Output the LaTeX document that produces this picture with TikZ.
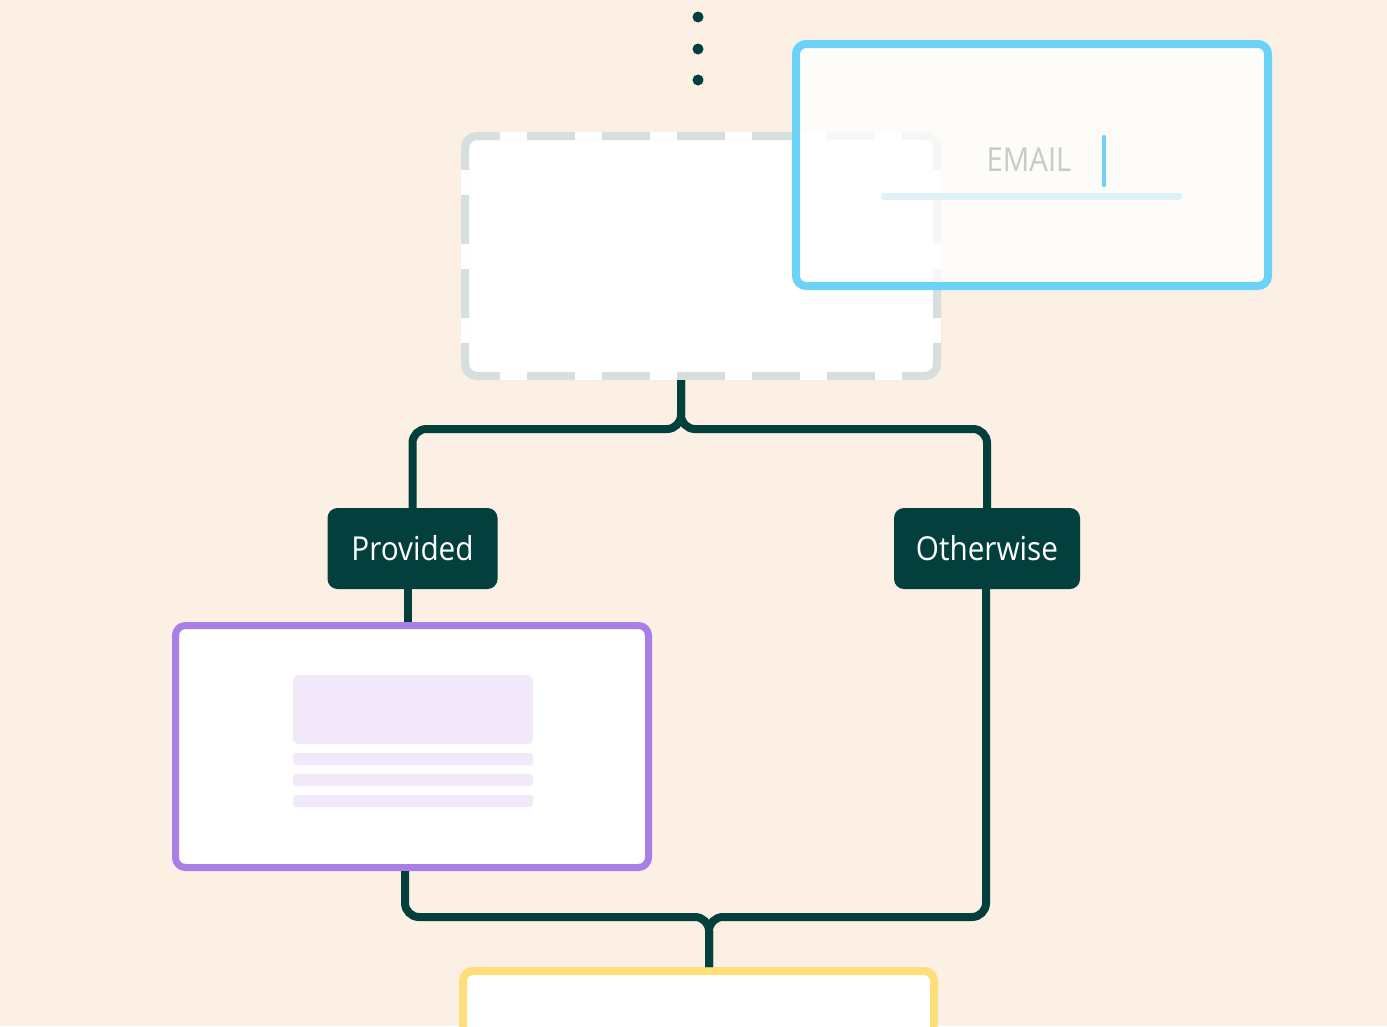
\documentclass[tikz,border=0pt]{standalone}
\usepackage{fontspec}
\setmainfont{Open Sans}
\usetikzlibrary{calc}
\definecolor{bg}{HTML}{FBF0E3}
\definecolor{dark}{HTML}{033F3D}
\definecolor{dashgray}{HTML}{D6DFDD}
\definecolor{skyblue}{HTML}{6CD2F7}
\definecolor{lightblue}{HTML}{DDF2F9}
\definecolor{violet}{HTML}{A97EE6}
\definecolor{lightviolet}{HTML}{F1E9F9}
\definecolor{sunyellow}{HTML}{FFDF7B}
\definecolor{textgray}{HTML}{C9C9C9}
\tikzset{
  conn/.style={draw=dark, line width=8pt, rounded corners=14pt},
  tag/.style={fill=dark, rounded corners=10pt, text=white, inner sep=0pt,
    minimum height=81pt, font=\fontsize{33}{40}\selectfont},
  card/.style={fill=white, line width=7pt, rounded corners=10pt, inner sep=0pt,
    minimum width=473pt, minimum height=242pt},
  gapbox/.style={fill=white},
  bar/.style={fill=lightviolet, rounded corners=3pt},
  dot/.style={fill=dark}
}
\begin{document}
\begin{tikzpicture}[x=1pt,y=-1pt]
\useasboundingbox (0,0) rectangle (1387,1026);
\clip (0,0) rectangle (1387,1026);
\fill[bg] (0,0) rectangle (1387,1026);

% three dots
\fill[dot] (698,17) circle (5.5pt);
\fill[dot] (698,49) circle (5.5pt);
\fill[dot] (698,80) circle (5.5pt);

% dashed placeholder box
\node[card, draw=dashgray, line width=8pt, rounded corners=12pt,
      minimum width=472pt, minimum height=240pt] (dashbox) at (701,256) {};
\foreach \c in {-187.5,-112.5,-37.5,37.5,112.5,187.5}{
  \fill[gapbox] (701+\c-13.5,132) rectangle (701+\c+13.5,140);
  \fill[gapbox] (701+\c-13.5,372) rectangle (701+\c+13.5,380);
}
\foreach \c in {182,256,330}{
  \fill[gapbox] (461,\c-12.5) rectangle (469,\c+12.5);
  \fill[gapbox] (933,\c-12.5) rectangle (941,\c+12.5);
}

% email card
\node[card, draw=skyblue, line width=8pt, fill opacity=0.8, draw opacity=1,
      minimum width=472pt, minimum height=242pt] (email) at (1032,165) {};
\draw[lightblue, line width=7pt, line cap=round] (884,196) -- (1179,196);
\node[text=textgray, font=\fontsize{33}{40}\selectfont, inner sep=0pt] (emailtxt) at (1029,160) {\scalebox{0.89}[1]{EMAIL}};
\draw[skyblue, line width=4pt, line cap=round] (1104,137) -- (1104,185);

% labels
\node[tag, minimum width=170pt] (prov) at (412.5,548.5) {\raisebox{-2pt}{\scalebox{0.9}[1]{Provided}}};
\node[tag, minimum width=186pt] (oth) at (987,548.5) {\raisebox{-2pt}{\scalebox{0.9}[1]{Otherwise}}};

% purple card
\node[card, draw=violet] (purple) at (412,746.5) {};
\fill[bar, rounded corners=6pt] (293,675) rectangle (533,744);
\fill[bar] (293,753) rectangle (533,765);
\fill[bar] (293,774) rectangle (533,786);
\fill[bar] (293,795) rectangle (533,807);

% yellow card
\node[card, draw=sunyellow, line width=8pt, minimum width=471pt, minimum height=258pt] (yellow) at (698.5,1100) {};

% connectors
\coordinate (j1) at (681,429);
\coordinate (j2) at (709,917);
\coordinate (pl) at (408,0);
\coordinate (bl) at (405,0);
\coordinate (br) at (986,0);
\draw[conn] (prov.north) |- (j1) -- (dashbox.south -| j1);
\draw[conn] (oth.north) |- (j1) -- (dashbox.south -| j1);
\draw[conn] (prov.south -| pl) -- (purple.north -| pl);
\draw[conn] (purple.south -| bl) |- (j2) -- (yellow.north -| j2);
\draw[conn] (oth.south -| br) |- (j2) -- (yellow.north -| j2);
\end{tikzpicture}
\end{document}
